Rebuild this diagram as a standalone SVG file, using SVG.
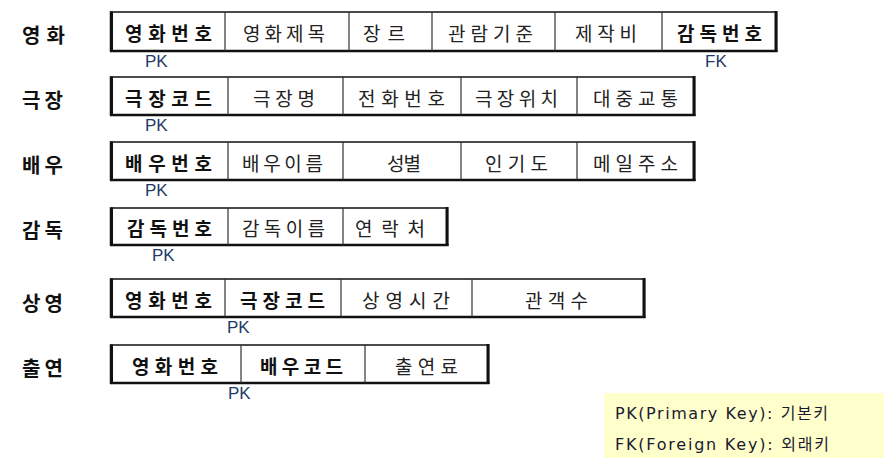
<svg xmlns="http://www.w3.org/2000/svg" width="889" height="466" viewBox="0 0 889 466">
<style>
.lbl{font-family:"Noto Sans CJK KR","Noto Sans",sans-serif;font-size:20px;font-weight:700;fill:#111}
.c{font-family:"Noto Sans CJK KR","Noto Sans",sans-serif;font-size:19px;font-weight:400;fill:#222}
.b{font-weight:700;fill:#111}
.k{font-family:"Liberation Sans",Arial,sans-serif;font-size:17px;fill:#1f3a68}
.box{fill:#fff;stroke:#111;stroke-width:1.5}
.edge{stroke:#111;stroke-width:3;fill:none}
.bot{stroke:#111;stroke-width:2.5;fill:none}
.div{stroke:#333;stroke-width:1.2}
.lg{font-family:"DejaVu Sans","Noto Sans CJK KR",sans-serif;font-size:16px;fill:#1a1a30}
</style>
<rect width="889" height="466" fill="#fff"/>

<g id="movie">
<text class="lbl" x="22" y="43" textLength="43">영화</text>
<rect class="box" x="110.5" y="12" width="666" height="39"/>
<path class="edge" d="M111.5 11.5V52M776 11V52"/>
<path class="bot" d="M110 51H777.5"/>
<path class="div" d="M225 12V51M349 12V51M432 12V51M555 12V51M662 12V51"/>
<text class="c b" x="125" y="41" textLength="87">영화번호</text>
<text class="c" x="243" y="41" textLength="82">영화제목</text>
<text class="c" x="363" y="41" textLength="42">장르</text>
<text class="c" x="448" y="41" textLength="85">관람기준</text>
<text class="c" x="575" y="41" textLength="62">제작비</text>
<text class="c b" x="677" y="41" textLength="85">감독번호</text>
<text class="k" x="145" y="67">PK</text>
<text class="k" x="705" y="67">FK</text>
</g>

<g id="theater">
<text class="lbl" x="22" y="108" textLength="41">극장</text>
<rect class="box" x="110.5" y="77" width="584" height="38"/>
<path class="edge" d="M111.5 76.5V116M694 76V116"/>
<path class="bot" d="M110 115H695.5"/>
<path class="div" d="M228 77V115M343 77V115M461 77V115M577 77V115"/>
<text class="c b" x="125" y="106" textLength="87">극장코드</text>
<text class="c" x="253" y="106" textLength="62">극장명</text>
<text class="c" x="358" y="106" textLength="87">전화번호</text>
<text class="c" x="475" y="106" textLength="83">극장위치</text>
<text class="c" x="593" y="106" textLength="85">대중교통</text>
<text class="k" x="145" y="131">PK</text>
</g>

<g id="actor">
<text class="lbl" x="22" y="173" textLength="41">배우</text>
<rect class="box" x="110.5" y="142" width="584" height="38"/>
<path class="edge" d="M111.5 141.5V181M694 141V181"/>
<path class="bot" d="M110 180H695.5"/>
<path class="div" d="M228 142V180M343 142V180M461 142V180M577 142V180"/>
<text class="c b" x="125" y="171" textLength="87">배우번호</text>
<text class="c" x="242" y="171" textLength="81">배우이름</text>
<text class="c" x="387" y="171" textLength="34">성별</text>
<text class="c" x="485" y="171" textLength="63">인기도</text>
<text class="c" x="593" y="171" textLength="85">메일주소</text>
<text class="k" x="145" y="196">PK</text>
</g>

<g id="director">
<text class="lbl" x="22" y="238" textLength="41">감독</text>
<rect class="box" x="110.5" y="208" width="337" height="37"/>
<path class="edge" d="M111.5 207.5V246M447 207V246"/>
<path class="bot" d="M110 245H448.5"/>
<path class="div" d="M228 208V245M343 208V245"/>
<text class="c b" x="127" y="236" textLength="85">감독번호</text>
<text class="c" x="242" y="236" textLength="83">감독이름</text>
<text class="c" x="355" y="236" textLength="70">연락처</text>
<text class="k" x="152" y="261">PK</text>
</g>

<g id="screening">
<text class="lbl" x="22" y="311" textLength="41">상영</text>
<rect class="box" x="110.5" y="279" width="534" height="38"/>
<path class="edge" d="M111.5 278.5V318M644 278V318"/>
<path class="bot" d="M110 317H645.5"/>
<path class="div" d="M225 279V317M341 279V317M472 279V317"/>
<text class="c b" x="125" y="308" textLength="87">영화번호</text>
<text class="c b" x="240" y="308" textLength="85">극장코드</text>
<text class="c" x="362" y="308" textLength="88">상영시간</text>
<text class="c" x="525" y="308" textLength="63">관객수</text>
<text class="k" x="227" y="333">PK</text>
</g>

<g id="appearance">
<text class="lbl" x="22" y="376" textLength="41">출연</text>
<rect class="box" x="110.5" y="345" width="378" height="38"/>
<path class="edge" d="M111.5 344.5V384M488 344V384"/>
<path class="bot" d="M110 383H489.5"/>
<path class="div" d="M241 345V383M365 345V383"/>
<text class="c b" x="132" y="374" textLength="86">영화번호</text>
<text class="c b" x="260" y="374" textLength="83">배우코드</text>
<text class="c" x="395" y="374" textLength="63">출연료</text>
<text class="k" x="228" y="399">PK</text>
</g>

<g id="legend">
<rect x="604" y="393" width="280" height="65" fill="#ffffcc"/>
<text class="lg" x="615" y="419" textLength="213">PK(Primary Key): 기본키</text>
<text class="lg" x="615" y="450" textLength="214">FK(Foreign Key): 외래키</text>
</g>

<g id="connectors"></g>
</svg>
